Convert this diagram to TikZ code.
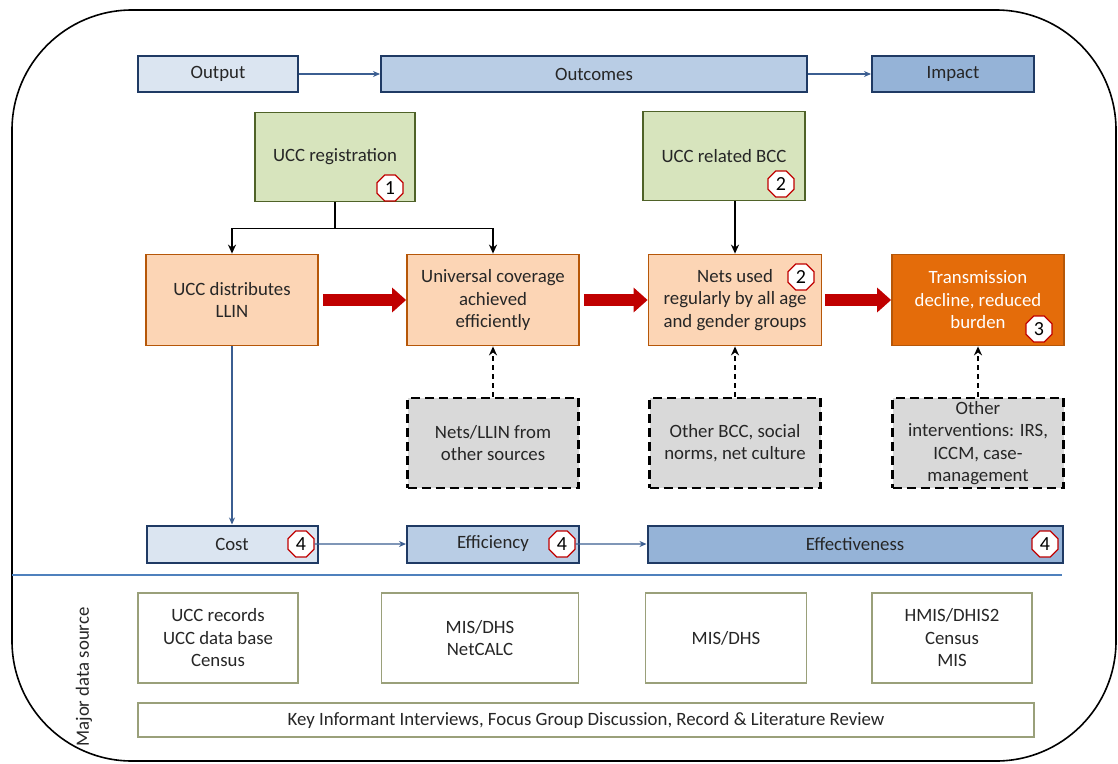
\documentclass[tikz,border=0pt]{standalone}
\usepackage{fontspec}
\setmainfont{Carlito}
\usetikzlibrary{arrows.meta,shapes.geometric,calc}
\definecolor{navy}{HTML}{1F3A64}
\definecolor{bluA}{HTML}{DBE5F1}
\definecolor{bluB}{HTML}{B9CDE5}
\definecolor{bluC}{HTML}{95B3D7}
\definecolor{grnF}{HTML}{D7E4BD}
\definecolor{grnD}{HTML}{4F6228}
\definecolor{orF}{HTML}{FCD5B5}
\definecolor{orD}{HTML}{B65708}
\definecolor{orS}{HTML}{E46C0A}
\definecolor{grayF}{HTML}{D9D9D9}
\definecolor{redA}{HTML}{C00000}
\definecolor{txt}{HTML}{262626}
\definecolor{srcD}{HTML}{9AA07A}
\definecolor{sepB}{HTML}{4F81BD}
\definecolor{lineB}{HTML}{3B5E91}
\tikzset{
  base/.style={rectangle, align=center, text=txt, font=\fontsize{18.8}{22.5}\selectfont, inner sep=2pt},
  bluebox/.style={base, draw=navy, line width=2pt, minimum height=36pt},
  greenbox/.style={base, draw=grnD, fill=grnF, line width=1.8pt, minimum width=160pt, minimum height=89pt},
  orbox/.style={base, draw=orD, fill=orF, line width=1.8pt, minimum width=172pt, minimum height=91pt},
  dbox/.style={base, draw=black, fill=grayF, line width=2.4pt, dash pattern=on 9pt off 5pt, minimum width=171pt, minimum height=90pt},
  srcbox/.style={base, draw=srcD, fill=white, line width=1.3pt, minimum height=90pt},
  octo/.style={regular polygon, regular polygon sides=8, draw=redA, fill=white, line width=1.3pt, minimum size=28pt, inner sep=0pt, text=black, font=\fontsize{20}{20}\selectfont},
  redarrow/.style={draw=redA, line width=12pt, -{Triangle[length=14pt,width=24pt]}},
  bluearrow/.style={draw=lineB, line width=1.2pt, -{Stealth[length=7pt,width=6pt]}},
  blkline/.style={draw=black, line width=1.5pt},
  blkarrow/.style={draw=black, line width=1.5pt, -{Stealth[length=9pt,width=8pt]}},
  dasharrow/.style={draw=black, line width=1.6pt, dash pattern=on 5pt off 4pt, -{Stealth[length=9pt,width=8pt]}},
}
\begin{document}
\begin{tikzpicture}[x=1pt,y=-1pt]
\useasboundingbox (0,0) rectangle (1118,763);
\fill[white] (0,0) rectangle (1118,763);
\draw[line width=1.6pt, rounded corners=120pt] (12,10) rectangle (1116,761);

% top row
\node[bluebox, fill=bluA, minimum width=160pt] (output) at (218,74) {Output};
\node[bluebox, fill=bluB, minimum width=426pt] (outcomes) at (594,74) {Outcomes};
\node[bluebox, fill=bluC, minimum width=162pt] (impact) at (953,74) {Impact};
\draw[bluearrow] (output.east) -- (outcomes.west);
\draw[bluearrow] (outcomes.east) -- (impact.west);

% green boxes
\node[greenbox] (reg) at (335,157) {UCC registration};
\node[greenbox, minimum width=162pt] (bcc) at (724,156) {UCC related BCC};
\node[octo] (o1) at (390,188) {1};
\node[octo] (o2a) at (781,184) {2};

% orange boxes
\node[orbox] (dist) at (232,300) {UCC distributes\\LLIN};
\node[orbox] (univ) at (493,300) {Universal coverage\\achieved\\efficiently};
\node[orbox, minimum width=173pt] (nets) at (735,300) {Nets used\\regularly by all age\\and gender groups};
\node[orbox, fill=orS, text=white] (trans) at (978,300) {Transmission\\decline, reduced\\burden};
\node[octo] (o2b) at (801,277) {2};
\node[octo] (o3) at (1039,329) {3};

% connectors from green
\draw[blkline] (reg.south) -- ($(reg.south)+(0,26)$) coordinate (j);
\draw[blkarrow] (j) -| (dist.north);
\draw[blkarrow] (j) -| (univ.north);
\draw[blkarrow] (bcc.south -| nets.north) -- (nets.north);

% red arrows
\draw[redarrow, shorten <=4pt] (dist.east) -- (univ.west);
\draw[redarrow, shorten <=4pt] (univ.east) -- (nets.west);
\draw[redarrow, shorten <=3pt] (nets.east) -- (trans.west);

% dashed boxes
\node[dbox] (d1) at (493,443) {Nets/LLIN from\\other sources};
\node[dbox] (d2) at (735,443) {Other BCC, social\\norms, net culture};
\node[dbox, font=\fontsize{18.8}{22.5}\selectfont] (d3) at (978,443) {Other\\interventions: IRS,\\ICCM, case-\\management};
\draw[dasharrow] (d1.north) -- (univ.south);
\draw[dasharrow] (d2.north) -- (nets.south);
\draw[dasharrow] (d3.north) -- (trans.south);

% bottom blue row
\node[bluebox, fill=bluA, minimum width=171pt, minimum height=37pt] (cost) at (232,544) {Cost};
\node[bluebox, fill=bluB, minimum width=172pt, minimum height=37pt] (eff) at (493,544) {Efficiency};
\node[bluebox, fill=bluC, minimum width=415pt, minimum height=37pt] (effv) at (855,544) {Effectiveness};
\node[octo] (o4a) at (301,544) {4};
\node[octo] (o4b) at (562,544) {4};
\node[octo] (o4c) at (1045,544) {4};
\draw[bluearrow] (dist.south) -- (cost.north);
\draw[bluearrow] (o4a.east) -- (eff.west);
\draw[bluearrow] (o4b.east) -- (effv.west);

% separator
\coordinate (sepL) at (12,575);
\coordinate (sepR) at (1062,575);
\draw[sepB, line width=1.4pt] (sepL) -- (sepR);

% data sources
\node[base, rotate=90] (major) at (84,677) {Major data source};
\node[srcbox, minimum width=160pt] (s1) at (218,638) {UCC records\\UCC data base\\Census};
\node[srcbox, minimum width=197pt] (s2) at (480,638) {MIS/DHS\\NetCALC};
\node[srcbox, minimum width=161pt] (s3) at (726,638) {MIS/DHS};
\node[srcbox, minimum width=160pt] (s4) at (952,638) {HMIS/DHIS2\\Census\\MIS};
\node[srcbox, minimum width=896pt, minimum height=34pt] (s5) at (586,720) {Key Informant Interviews, Focus Group Discussion, Record \& Literature Review};
\end{tikzpicture}
\end{document}
